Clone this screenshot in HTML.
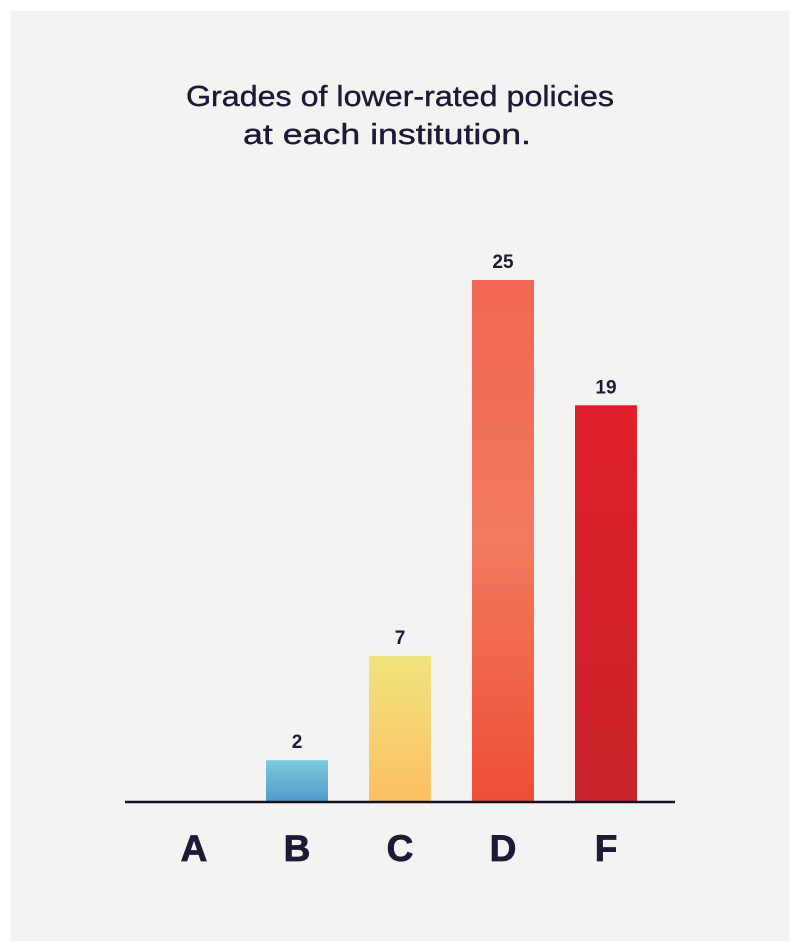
<!DOCTYPE html>
<html><head><meta charset="utf-8"><style>
html,body{margin:0;padding:0;background:#fff;}
#wrap{position:relative;width:800px;height:952px;background:#fff;overflow:hidden;}
#paper{position:absolute;left:11px;top:11px;width:778px;height:930px;background:#f4f3f1;}
svg{position:absolute;left:0;top:0;}
</style></head><body>
<div id="wrap">
<div id="paper"></div>
<svg id="chart" width="800" height="952">
<defs>
<linearGradient id="gB" x1="0" y1="0" x2="0" y2="1"><stop offset="0" stop-color="#7ccbde"/><stop offset="1" stop-color="#4f9acb"/></linearGradient>
<linearGradient id="gC" x1="0" y1="0" x2="0" y2="1"><stop offset="0" stop-color="#f2e57f"/><stop offset="1" stop-color="#fcbf62"/></linearGradient>
<linearGradient id="gD" x1="0" y1="0" x2="0" y2="1"><stop offset="0" stop-color="#f06652"/><stop offset="0.5" stop-color="#f17a5e"/><stop offset="1" stop-color="#ee4e38"/></linearGradient>
<linearGradient id="gF" x1="0" y1="0" x2="0" y2="1"><stop offset="0" stop-color="#e01f2a"/><stop offset="1" stop-color="#c8222a"/></linearGradient>
</defs>
<text x="400" y="106" text-anchor="middle" font-family="Liberation Sans, sans-serif" font-size="29" fill="#1d1a36" stroke="#1d1a36" stroke-width="0.4" textLength="428" lengthAdjust="spacingAndGlyphs">Grades of lower-rated policies</text>
<text x="387" y="144" text-anchor="middle" font-family="Liberation Sans, sans-serif" font-size="29" fill="#1d1a36" stroke="#1d1a36" stroke-width="0.4" textLength="288" lengthAdjust="spacingAndGlyphs">at each institution.</text>
<g id="bars"></g>
<line x1="125" y1="802" x2="675" y2="802" stroke="#15131f" stroke-width="2.5"/>
</svg>
</div>
<script>
const categories = ["A","B","C","D","F"];
const values = [0,2,7,25,19];
const fills = ["#ccc","url(#gB)","url(#gC)","url(#gD)","url(#gF)"];
const baseY = 802, unit = 20.88, firstCenter = 194, step = 103, barW = 62;
const xPos = i => firstCenter + i*step;
const yPos = v => baseY - v*unit;
const g = document.getElementById('bars');
const NS = "http://www.w3.org/2000/svg";
categories.forEach((c,i)=>{
  const v = values[i];
  if (v > 0) {
    const r = document.createElementNS(NS,'rect');
    r.setAttribute('x', xPos(i)-barW/2);
    r.setAttribute('y', yPos(v));
    r.setAttribute('width', barW);
    r.setAttribute('height', baseY - yPos(v));
    r.setAttribute('fill', fills[i]);
    
    
    g.appendChild(r);
    const t = document.createElementNS(NS,'text');
    t.setAttribute('x', xPos(i));
    t.setAttribute('y', yPos(v) - 12);
    t.setAttribute('text-anchor','middle');
    t.setAttribute('font-family','Liberation Sans, sans-serif');
    t.setAttribute('font-weight','bold');
    t.setAttribute('font-size','19');
    t.setAttribute('fill','#1d1a36');
    t.textContent = v;
    
    
    g.appendChild(t);
  }
  const l = document.createElementNS(NS,'text');
  l.setAttribute('x', xPos(i));
  l.setAttribute('y', 861);
  l.setAttribute('text-anchor','middle');
  l.setAttribute('font-family','Liberation Sans, sans-serif');
  l.setAttribute('font-weight','bold');
  l.setAttribute('font-size','37');
  l.setAttribute('fill','#1d1a36');
  l.setAttribute('stroke','#1d1a36');
  l.setAttribute('stroke-width','0.8');
  l.textContent = c;
  
  
  g.appendChild(l);
});
</script>
</body></html>
